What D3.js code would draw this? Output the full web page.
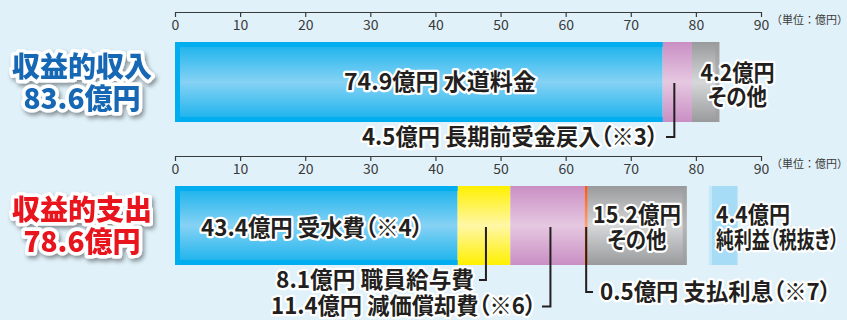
<!DOCTYPE html>
<html><head><meta charset="utf-8">
<script src="https://cdn.jsdelivr.net/npm/d3@7"></script>
<style>
html,body{margin:0;padding:0;background:#e0f1f9;}
svg{display:block;}
text{font-family:"Noto Sans CJK JP","Noto Sans",sans-serif;}
.lbl{font-feature-settings:"palt";}
</style></head>
<body>
<svg id="chart" width="847" height="320"></svg>
<script>
// ---- data ----
const tickValues = [0, 10, 20, 30, 40, 50, 60, 70, 80, 90];
const unitLabel = "（単位：億円）";
const incomeTitle = ["収益的収入", "83.6億円"];
const expenseTitle = ["収益的支出", "78.6億円"];
const incomeNames = ["水道料金", "長期前受金戻入（※3）", "その他"];
const incomeValues = [74.9, 4.5, 4.2];
const expenseNames = ["受水費（※4）", "職員給与費", "減価償却費（※6）", "支払利息（※7）", "その他"];
const expenseValues = [43.4, 8.1, 11.4, 0.5, 15.2];
const profitName = "純利益（税抜き）";
const profitValue = 4.4;

const svg = d3.select("#chart");
const W = 847, H = 320;
svg.append("rect").attr("width", W).attr("height", H).attr("fill", "#e0f1f9");

const x = d3.scaleLinear().domain([0, 90]).range([175, 761]);

const defs = svg.append("defs");
function vgrad(id, edge, mid) {
  const g = defs.append("linearGradient").attr("id", id)
    .attr("x1", 0).attr("y1", 0).attr("x2", 0).attr("y2", 1);
  g.append("stop").attr("offset", "0%").attr("stop-color", edge);
  g.append("stop").attr("offset", "50%").attr("stop-color", mid);
  g.append("stop").attr("offset", "100%").attr("stop-color", edge);
}
vgrad("gBlue", "#14b1ec", "#86d2f4");
vgrad("gPink", "#c98fc4", "#e6c8e1");
vgrad("gGray", "#999a9b", "#d6d7d8");
vgrad("gYellow", "#fff000", "#fff7a6");
vgrad("gOrange", "#ef5a24", "#f7a27f");

const shadow = defs.append("filter").attr("id", "shadow")
  .attr("x", "-20%").attr("y", "-30%").attr("width", "150%").attr("height", "170%");
shadow.append("feDropShadow").attr("dx", 2).attr("dy", 3).attr("stdDeviation", 2.2)
  .attr("flood-color", "#000").attr("flood-opacity", 0.4);

// ---- axes ----
function drawAxis(y) {
  const ax = d3.axisBottom(x).tickValues(tickValues).tickSize(5).tickSizeOuter(0).tickPadding(3);
  const g = svg.append("g").attr("transform", `translate(0,${y})`).call(ax);
  g.select(".domain").attr("stroke", "#3a3a3a").attr("stroke-width", 1.2);
  g.selectAll(".tick line").attr("stroke", "#3a3a3a").attr("stroke-width", 1.2);
  g.selectAll(".tick text").attr("fill", "#3a3a3a").attr("font-size", 14)
    .attr("font-family", "'Noto Sans', 'DejaVu Sans', sans-serif");
  svg.append("text").attr("x", 771).attr("y", y + 12).attr("font-size", 11)
    .attr("fill", "#3a3a3a").text(unitLabel);
}
drawAxis(12);
drawAxis(156);

// ---- bars ----
const incomeFills = ["url(#gBlue)", "url(#gPink)", "url(#gGray)"];
const expenseFills = ["url(#gBlue)", "url(#gYellow)", "url(#gPink)", "url(#gOrange)", "url(#gGray)"];

function stack(values) {
  let c = 0;
  return values.map(v => { const s = c; c += v; return { s, e: c, v }; });
}
function drawBars(values, fills, y0, h) {
  const st = stack(values);
  const g = svg.append("g");
  g.selectAll("rect.bar").data(st).join("rect").attr("class", "bar")
    .attr("x", d => x(d.s)).attr("width", d => x(d.e) - x(d.s))
    .attr("y", y0).attr("height", h)
    .attr("fill", (d, i) => fills[i]);
  const b = st[0];
  g.append("path")
    .attr("d", `M${x(b.e)},${y0 + 2.5}H${x(b.s) + 2.5}V${y0 + h - 2.5}H${x(b.e)}`)
    .attr("fill", "none").attr("stroke", "#00aeef").attr("stroke-width", 5);
  const last = st[st.length - 1];
  g.append("rect").attr("x", x(last.e) - 4).attr("width", 4).attr("y", y0).attr("height", h)
    .attr("fill", "#9d9e9f").attr("opacity", 0.6);
  return st;
}
const incSt = drawBars(incomeValues, incomeFills, 42, 80);
const expSt = drawBars(expenseValues, expenseFills, 186, 79);

// profit bar
const totalExp = d3.sum(expenseValues);
const profitStart = totalExp + 3.4;
svg.append("rect").attr("x", x(profitStart)).attr("width", x(profitStart + profitValue) - x(profitStart))
  .attr("y", 186).attr("height", 79).attr("fill", "#a6dcf5");
svg.append("rect").attr("x", x(profitStart)).attr("width", 3)
  .attr("y", 186).attr("height", 79).attr("fill", "#c4e8f8");

// ---- leader lines ----
const ink = "#231f20";
function leader(d) {
  svg.append("path").attr("d", d).attr("fill", "none").attr("stroke", ink).attr("stroke-width", 2);
}
const mid = s => x((s.s + s.e) / 2);
leader(`M${mid(incSt[1]) - 3},83V137H666`);
leader(`M${mid(expSt[1]) + 2},227V280H479`);
leader(`M${mid(expSt[2]) + 3},227V306.5H542`);
leader(`M${mid(expSt[3])},227V292H593`);

// ---- labels ----
function label(lines, px, anchor) {
  const t = svg.append("text").attr("class", "lbl").attr("text-anchor", anchor)
    .attr("font-size", 23).attr("font-weight", 700).attr("fill", ink)
    .attr("stroke", "#fff").attr("stroke-width", 4.5).attr("stroke-linejoin", "round")
    .attr("paint-order", "stroke");
  lines.forEach(([txt, py, len]) => {
    t.append("tspan").attr("x", px).attr("y", py)
      .attr("textLength", len).attr("lengthAdjust", "spacingAndGlyphs").text(txt);
  });
  return t;
}
const fmt = v => `${v}億円`;
label([[`${fmt(incomeValues[0])} ${incomeNames[0]}`, 90, 192]], 440, "middle");
label([[fmt(incomeValues[2]), 81, 74], [incomeNames[2], 105, 59]], 737.5, "middle");
label([[`${fmt(incomeValues[1])} ${incomeNames[1]}`, 145, 296]], 658, "end");

label([[`${fmt(expenseValues[0])} ${expenseNames[0]}`, 236, 222]], 201, "start");
label([[`${fmt(expenseValues[1])} ${expenseNames[1]}`, 288, 198]], 474, "end");
label([[`${fmt(expenseValues[2])} ${expenseNames[2]}`, 314, 265]], 536, "end");
label([[`${fmt(expenseValues[3])} ${expenseNames[3]}`, 300, 231]], 600, "start");
label([[fmt(expenseValues[4]), 223, 88], [expenseNames[4], 248, 59]], 637, "middle");
label([[fmt(profitValue), 223, 74], [profitName, 248, 123]], 716, "start");

// ---- titles ----
function title(lines, color, y1, y2) {
  const g = svg.append("g").attr("filter", "url(#shadow)");
  const t = g.append("text").attr("text-anchor", "middle")
    .attr("font-size", 28).attr("font-weight", 900).attr("fill", color)
    .attr("stroke", "#fff").attr("stroke-width", 7).attr("stroke-linejoin", "round")
    .attr("paint-order", "stroke");
  [[lines[0], y1], [lines[1], y2]].forEach(([s, yy]) => {
    t.append("tspan").attr("x", 82).attr("y", yy).text(s);
  });
}
title(incomeTitle, "#1768b4", 77, 109);
title(expenseTitle, "#e8141f", 220, 252);
</script>
</body></html>
